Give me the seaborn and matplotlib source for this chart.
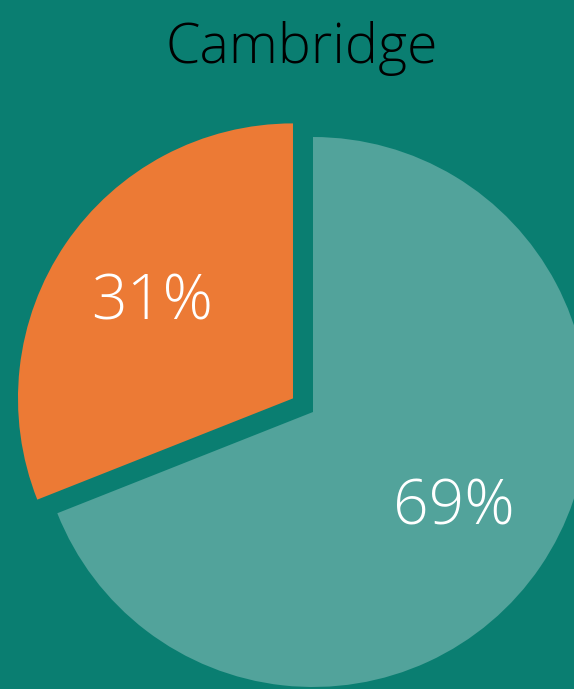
import seaborn as sns
import matplotlib.pyplot as plt

# 数据
labels = ['Other', 'Cambridge']
shares = [31, 69]
slice_colors = ['#EC7A35', '#52A39B']
explode = [0.088, 0]

sns.set_theme(style='white')
plt.rcParams['font.family'] = ['Open Sans', 'DejaVu Sans']

bg = '#0A7E71'
fig = plt.figure(figsize=(5.74, 6.89), dpi=100, facecolor=bg)
ax = fig.add_axes([0, 0, 1, 1])
ax.set_facecolor(bg)

wedges, texts, autotexts = ax.pie(
    shares,
    colors=slice_colors,
    explode=explode,
    startangle=90,
    autopct='%d%%',
    pctdistance=0.62,
    radius=1,
    wedgeprops={'linewidth': 0},
    textprops={'color': 'white', 'fontsize': 45, 'fontweight': 'light'},
)

# 1 单位半径 = 275 px，饼图中心位于 (313, 412)
ax.set_xlim(-313 / 275, (574 - 313) / 275)
ax.set_ylim(-277 / 275, 412 / 275)
ax.set_aspect('equal', adjustable='datalim')
ax.axis('off')

fig.text(0.525, 0.930, 'Cambridge', ha='center', va='center',
         fontsize=40, fontweight='light', color='black')

fig.savefig('out.png', dpi=100, facecolor=bg)
